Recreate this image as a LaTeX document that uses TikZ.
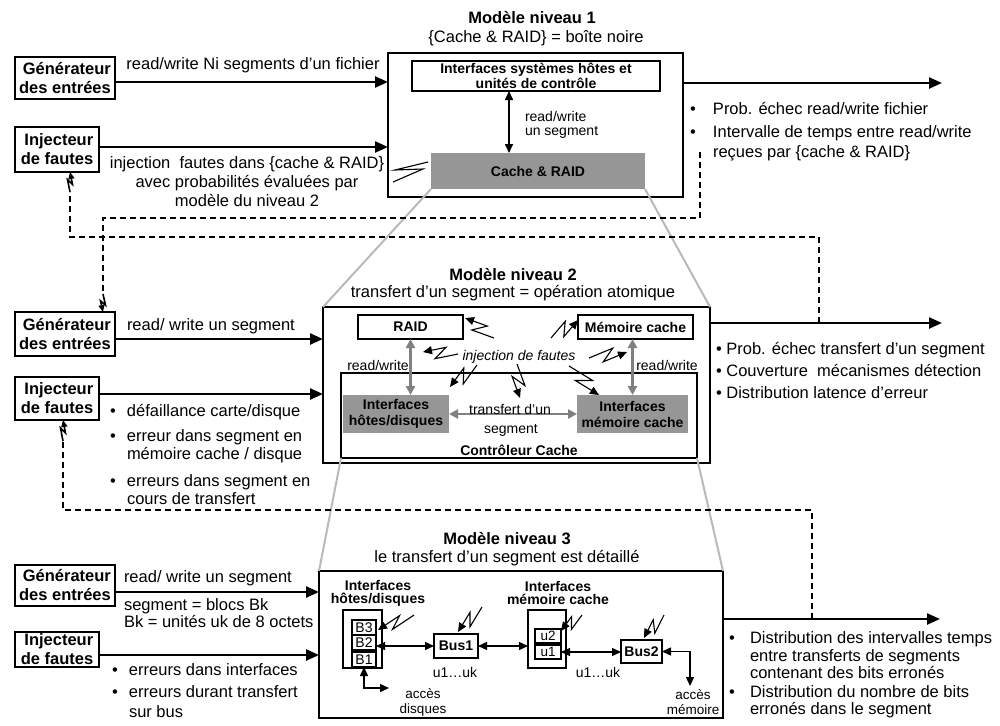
\documentclass[tikz,border=0pt]{standalone}
\usepackage{fontspec}
\setmainfont{Liberation Sans}
\usetikzlibrary{arrows.meta,calc}
\definecolor{boxgray}{RGB}{150,150,150}
\definecolor{arrowgray}{RGB}{128,128,128}
\definecolor{trapgray}{RGB}{185,185,185}
\newcommand\fA{\fontsize{16.5}{19}\selectfont}
\newcommand\fB{\fontsize{14}{14}\selectfont}
\newcommand\bul[1]{\makebox[#1][l]{•}}
\newcommand\ind[1]{\hspace*{#1}}
\newcommand\zap[3][5pt]{\draw[zapline] (#2) -- ($(#2)!0.65!(#3)!#1!90:(#3)$) -- ($(#2)!0.35!(#3)!#1!-90:(#3)$) -- (#3);}
\newcommand\dzap[2]{\draw[dzapline] (#1) -- ($(#1)!0.62!(#2)!2.5pt!90:(#2)$) -- ($(#1)!0.38!(#2)!2.5pt!-90:(#2)$) -- (#2);}
\begin{document}
\begin{tikzpicture}[x=1pt,y=-1pt,
  every node/.style={outer sep=0pt,inner sep=0pt},
  lvlbox/.style={draw,line width=2.6pt},
  inbox/.style={draw,line width=2.4pt,font=\fA\bfseries,align=right},
  thinbox/.style={draw,line width=1.1pt},
  graybox/.style={fill=boxgray,font=\fontsize{14}{16}\selectfont\bfseries,align=center},
  mainarrow/.style={line width=2.4pt,-{Triangle[length=13pt,width=11pt]}},
  dbl/.style={line width=1.6pt,{Triangle[length=9pt,width=8pt]}-{Triangle[length=9pt,width=8pt]}},
  garrow/.style={draw=arrowgray,line width=2.6pt,{Triangle[length=9pt,width=9pt]}-{Triangle[length=9pt,width=9pt]}},
  athree/.style={line width=1.4pt,{Triangle[length=9pt,width=8pt]}-{Triangle[length=9pt,width=8pt]}},
  trap/.style={draw=trapgray,line width=2pt},
  dashline/.style={line width=1.8pt,dash pattern=on 6pt off 4pt},
  zapline/.style={line width=1.1pt,-{Triangle[length=9pt,width=8pt]}},
  dzapline/.style={line width=1.6pt,-{Triangle[length=7pt,width=6pt]}},
  txt/.style={font=\fA,align=left}]
\useasboundingbox (0,0) rectangle (1000,725);

% ---------------- Level 1 ----------------
\node[lvlbox,minimum width=295pt,minimum height=144pt] (lev1) at (535.5,125) {};
\node[font=\fA\bfseries] (t1) at (532,18) {Modèle niveau 1};
\node[font=\fA] (s1) at (536,38) {\{Cache \& RAID\} = boîte noire};
\node[thinbox,minimum width=248pt,minimum height=30pt,font=\fontsize{14}{13}\selectfont\bfseries,align=center] (if1) at (536,76) {Interfaces systèmes hôtes et\\unités de contrôle};
\node[graybox,minimum width=214pt,minimum height=36pt] (cr1) at (538,171) {Cache \& RAID};
\draw[dbl] ([xshift=-27pt]if1.south) -- ([xshift=-27pt]if1.south |- cr1.north);
\node[font=\fontsize{14}{14}\selectfont,align=left,anchor=west] (rw1) at (525,125) {read/write\\un segment};
\draw[line width=1.1pt] (428,162) -- (395,170) -- (423,169) -- (393,182);

\node[inbox,minimum width=100pt,minimum height=42pt] (gen1) at (65,78) {Générateur\\des entrées};
\node[inbox,minimum width=84pt,minimum height=45pt] (inj1) at (57,149.5) {Injecteur\\de fautes};
\draw[mainarrow] ([yshift=-4pt]gen1.east) -- ([yshift=-4pt]gen1.east -| lev1.west);
\draw[mainarrow] ([yshift=2.5pt]inj1.east) -- ([yshift=2.5pt]inj1.east -| lev1.west);
\node[font=\fA] (l1a) at (253,65) {read/write Ni segments d’un fichier};
\node[font=\fA,align=center] (l1b) at (247,182) {injection\ \ fautes dans \{cache \& RAID\}\\avec probabilités évaluées par\\modèle du niveau 2};

\coordinate (o1) at (942,83);
\draw[mainarrow] ([yshift=42pt]lev1.east) -- (o1);
\node[txt,anchor=west] (o1b1) at (690,109) {\bul{23pt}Prob. échec read/write fichier};
\node[font=\fontsize{16.5}{20}\selectfont,align=left,anchor=west] (o1b2) at (690,143) {\bul{23pt}Intervalle de temps entre read/write\\\ind{23pt}reçues par \{cache \& RAID\}};

% ---------------- Level 2 ----------------
\node[lvlbox,minimum width=387pt,minimum height=156pt] (lev2) at (516.5,385) {};
\node[font=\fA\bfseries] (t2) at (513,275) {Modèle niveau 2};
\node[font=\fA] (s2) at (513,293) {transfert d’un segment = opération atomique};
\node[thinbox,minimum width=356pt,minimum height=85pt] (ctrl) at (519,415.5) {};
\node[font=\fB\bfseries] (ctrlt) at (519,450) {Contrôleur Cache};
\node[thinbox,minimum width=105pt,minimum height=24pt,font=\fB\bfseries] (raid) at (410.5,327) {RAID};
\node[thinbox,minimum width=115pt,minimum height=24pt,font=\fB\bfseries] (mc) at (635.5,327) {Mémoire cache};
\node[graybox,minimum width=106pt,minimum height=38pt] (ihd) at (396,414) {Interfaces\\hôtes/disques};
\node[graybox,minimum width=111pt,minimum height=38pt] (imc) at (632.5,414) {Interfaces\\mémoire cache};
\draw[garrow] (raid.south) -- (raid.south |- ihd.north);
\draw[garrow] (imc.north |- mc.south) -- (imc.north);
\draw[garrow] (ihd.east) -- (imc.west);
\node[font=\fB] (tr1) at (510,409) {transfert d’un};
\node[font=\fB] (tr2) at (511,430) {segment};
\node[font=\fB] (rwl) at (378,365) {read/write};
\node[font=\fB] (rwr) at (667,365) {read/write};
\node[font=\fB\itshape] (injf) at (519,357) {injection de fautes};

\coordinate (zAs) at (494,338); \coordinate (zAe) at (465,318);
\coordinate (zBs) at (551,338); \coordinate (zBe) at (578,320);
\coordinate (zCs) at (458,354); \coordinate (zCe) at (423,352);
\coordinate (zDs) at (589,358); \coordinate (zDe) at (627,352);
\coordinate (zEs) at (477,365); \coordinate (zEe) at (450,387);
\coordinate (zFs) at (517,364); \coordinate (zFe) at (520,398);
\coordinate (zGs) at (569,366); \coordinate (zGe) at (599,395);
\zap[6pt]{zAs}{zAe}
\zap[6pt]{zBs}{zBe}
\zap[6pt]{zCs}{zCe}
\zap[6pt]{zDs}{zDe}
\zap[6pt]{zEs}{zEe}
\zap[6pt]{zFs}{zFe}
\zap[6pt]{zGs}{zGe}

\node[inbox,minimum width=100pt,minimum height=44pt] (gen2) at (65,334) {Générateur\\des entrées};
\node[inbox,minimum width=84pt,minimum height=43pt] (inj2) at (57,398.5) {Injecteur\\de fautes};
\draw[mainarrow] ([yshift=-5pt]gen2.east) -- ([yshift=-5pt]gen2.east -| lev2.west);
\draw[mainarrow] ([yshift=4.5pt]inj2.east) -- ([yshift=4.5pt]inj2.east -| lev2.west);
\node[txt,anchor=west] (l2a) at (127,326) {read/ write un segment};
\node[txt,anchor=west] (l2b1) at (110,412) {\bul{17pt}défaillance carte/disque};
\node[font=\fontsize{16.5}{18.5}\selectfont,align=left,anchor=west] (l2b2) at (110,446) {\bul{17pt}erreur dans segment en\\\ind{17pt}mémoire cache / disque};
\node[font=\fontsize{16.5}{18}\selectfont,align=left,anchor=west] (l2b3) at (110,489.5) {\bul{17pt}erreurs dans segment en\\\ind{17pt}cours de transfert};

\coordinate (o2) at (942,323);
\draw[mainarrow] ([yshift=62pt]lev2.east) -- (o2);
\node[txt,anchor=west] (o2b1) at (716,350) {• Prob. échec transfert d’un segment};
\node[txt,anchor=west] (o2b2) at (716,371) {• Couverture\ \ mécanismes détection};
\node[txt,anchor=west] (o2b3) at (716,393) {• Distribution latence d’erreur};

% trapezoid 1
\draw[trap] (cr1.south west) -- (lev2.north west);
\draw[trap] (cr1.south east) -- (lev2.north east);

% ---------------- Level 3 ----------------
\node[lvlbox,minimum width=404pt,minimum height=147pt] (lev3) at (521,644.5) {};
\node[font=\fA\bfseries] (t3) at (507,539) {Modèle niveau 3};
\node[font=\fA] (s3) at (507,558) {le transfert d’un segment est détaillé};
\draw[trap] (ctrl.south west) -- (lev3.north west);
\draw[trap] (ctrl.south east) -- (lev3.north east);

\node[font=\fontsize{14}{13}\selectfont\bfseries,align=center] (hdt) at (378,593) {Interfaces\\hôtes/disques};
\node[font=\fontsize{14}{13}\selectfont\bfseries,align=center] (mct) at (558,593) {Interfaces\\mémoire cache};
\node[thinbox,minimum width=39pt,minimum height=58pt] (hd) at (362.5,639) {};
\node[thinbox,minimum width=24pt,minimum height=15pt,font=\fB] (b3) at (364,627.5) {B3};
\node[thinbox,minimum width=24pt,minimum height=15pt,font=\fB] (b2) at (364,642.5) {B2};
\node[thinbox,minimum width=24pt,minimum height=15pt,font=\fB] (b1) at (364,659.5) {B1};
\node[thinbox,minimum width=44pt,minimum height=24pt,font=\fB\bfseries] (bus1) at (456,646) {Bus1};
\node[font=\fB] (uk1) at (455,672) {u1…uk};
\node[thinbox,minimum width=38pt,minimum height=58pt] (mc3) at (547,639) {};
\node[thinbox,minimum width=26pt,minimum height=14pt,font=\fontsize{13.5}{13.5}\selectfont] (u2) at (548,636) {u2};
\node[thinbox,minimum width=26pt,minimum height=14pt,font=\fontsize{13.5}{13.5}\selectfont] (u1) at (548,652) {u1};
\node[thinbox,minimum width=41pt,minimum height=23pt,font=\fB\bfseries] (bus2) at (641.5,651.5) {Bus2};
\node[font=\fB] (uk2) at (598,672) {u1…uk};
\draw[athree] (b2.east |- bus1.west) -- (bus1.west);
\draw[athree] (bus1.east) -- (bus1.east -| mc3.west);
\draw[athree] (u1.east) -- (u1.east -| bus2.west);
\coordinate (am) at (690,686);
\draw[athree] (bus2.east) -| (am);
\coordinate (ad) at (389,688);
\draw[athree] (b1.south) |- (ad);
\node[font=\fontsize{13.5}{15}\selectfont,align=center] (acd) at (423,702) {accès\\disques};
\node[font=\fontsize{13.5}{15}\selectfont,align=center] (acm) at (693,702) {accès\\mémoire};

\coordinate (zHs) at (414,615); \coordinate (zHe) at (378,630);
\coordinate (zIs) at (482,607); \coordinate (zIe) at (458,632);
\coordinate (zJs) at (582,615); \coordinate (zJe) at (561,631);
\coordinate (zKs) at (664,615); \coordinate (zKe) at (644,638);
\zap[5pt]{zHs}{zHe}
\zap[5pt]{zIs}{zIe}
\zap[5pt]{zJs}{zJe}
\zap[5pt]{zKs}{zKe}

\node[inbox,minimum width=100pt,minimum height=41pt] (gen3) at (65,585.5) {Générateur\\des entrées};
\node[inbox,minimum width=84pt,minimum height=35pt] (inj3) at (57,649.5) {Injecteur\\de fautes};
\draw[mainarrow] ([yshift=-6.5pt]gen3.east) -- ([yshift=-6.5pt]gen3.east -| lev3.west);
\draw[mainarrow] ([yshift=-5.5pt]inj3.east) -- ([yshift=-5.5pt]inj3.east -| lev3.west);
\node[txt,anchor=west] (l3a) at (124,578) {read/ write un segment};
\node[font=\fontsize{16.5}{14.5}\selectfont,align=left,anchor=west] (l3b) at (124,613) {segment = blocs Bk\\Bk = unités uk de 8 octets};
\node[txt,anchor=west] (l3b1) at (112,670) {\bul{17pt}erreurs dans interfaces};
\node[font=\fontsize{16.5}{20}\selectfont,align=left,anchor=west] (l3b2) at (112,702) {\bul{17pt}erreurs durant transfert\\\ind{17pt}sur bus};

\coordinate (o3) at (940,619);
\draw[mainarrow] ([yshift=25.5pt]lev3.east) -- (o3);
\node[font=\fontsize{16.5}{17.5}\selectfont,align=left,anchor=west] (o3b1) at (729,655.5) {\bul{21pt}Distribution des intervalles temps\\\ind{21pt}entre transferts de segments\\\ind{21pt}contenant des bits erronés};
\node[font=\fontsize{16.5}{17.5}\selectfont,align=left,anchor=west] (o3b2) at (729,701.5) {\bul{21pt}Distribution du nombre de bits\\\ind{21pt}erronés dans le segment};

% ---------------- dashed feedback ----------------
\coordinate (dA0) at (700,152); \coordinate (dA1) at (103,218); \coordinate (dA2) at (103,294);
\coordinate (gA) at ([xshift=38pt]gen2.north);
\draw[dashline] (dA0) |- (dA1) -- (dA2);
\dzap{dA2}{gA}
\coordinate (dB0) at (819,323); \coordinate (dB1) at (70,237); \coordinate (dB2) at (70,192);
\coordinate (iB) at ([xshift=13pt]inj1.south);
\draw[dashline] (dB0) |- (dB1) -- (dB2);
\dzap{dB2}{iB}
\coordinate (dC0) at (812,619); \coordinate (dC1) at (63,510); \coordinate (dC2) at (63,441);
\coordinate (iC) at ([xshift=6pt]inj2.south);
\draw[dashline] (dC0) |- (dC1) -- (dC2);
\dzap{dC2}{iC}
\end{tikzpicture}
\end{document}
